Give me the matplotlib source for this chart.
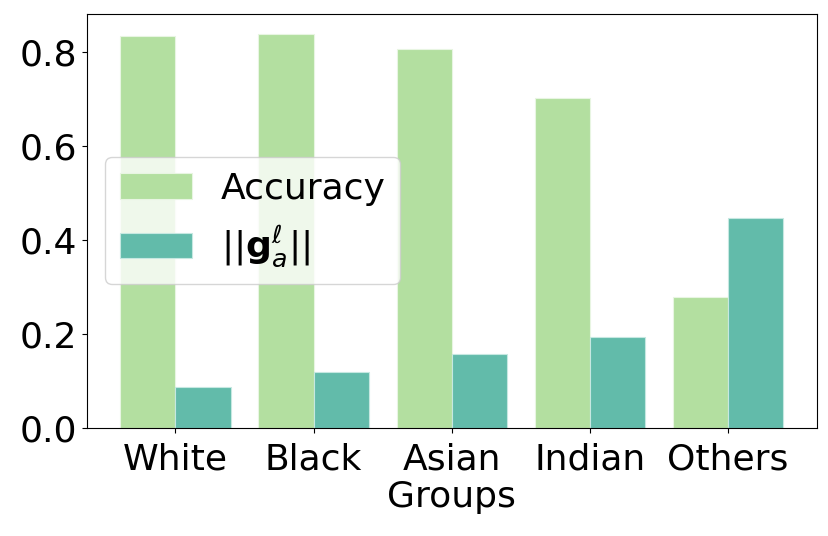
import matplotlib.pyplot as plt
import numpy as np

# data
groups = ["White", "Black", "Asian", "Indian", "Others"]
accuracy = [0.834, 0.840, 0.808, 0.702, 0.279]
grad_norm = [0.087, 0.119, 0.158, 0.193, 0.447]

acc_color = "#b3dfa0"
grad_color = "#62bbaa"

plt.rcParams["font.size"] = 26

fig = plt.figure(figsize=(8.29, 5.36), dpi=100)
ax = fig.add_subplot(111)
fig.subplots_adjust(left=0.105, right=0.985, top=0.974, bottom=0.202)

x = np.arange(len(groups))
w = 0.4
ax.bar(x - w / 2, accuracy, w, color=acc_color, edgecolor="#e8f5e2",
       linewidth=0.8, label="Accuracy")
ax.bar(x + w / 2, grad_norm, w, color=grad_color, edgecolor="#c6e8e1",
       linewidth=0.8, label=r"$||\mathbf{g}_a^\ell||$")

ax.set_xticks(x)
ax.set_xticklabels(groups)
ax.set_yticks([0.0, 0.2, 0.4, 0.6, 0.8])
ax.set_xlabel("Groups", labelpad=3)
ax.tick_params(labelsize=26)
ax.tick_params(axis="x", pad=7)
ax.legend(loc="center left", bbox_to_anchor=(0.0, 0.5), fontsize=26)

plt.savefig("out.png")
